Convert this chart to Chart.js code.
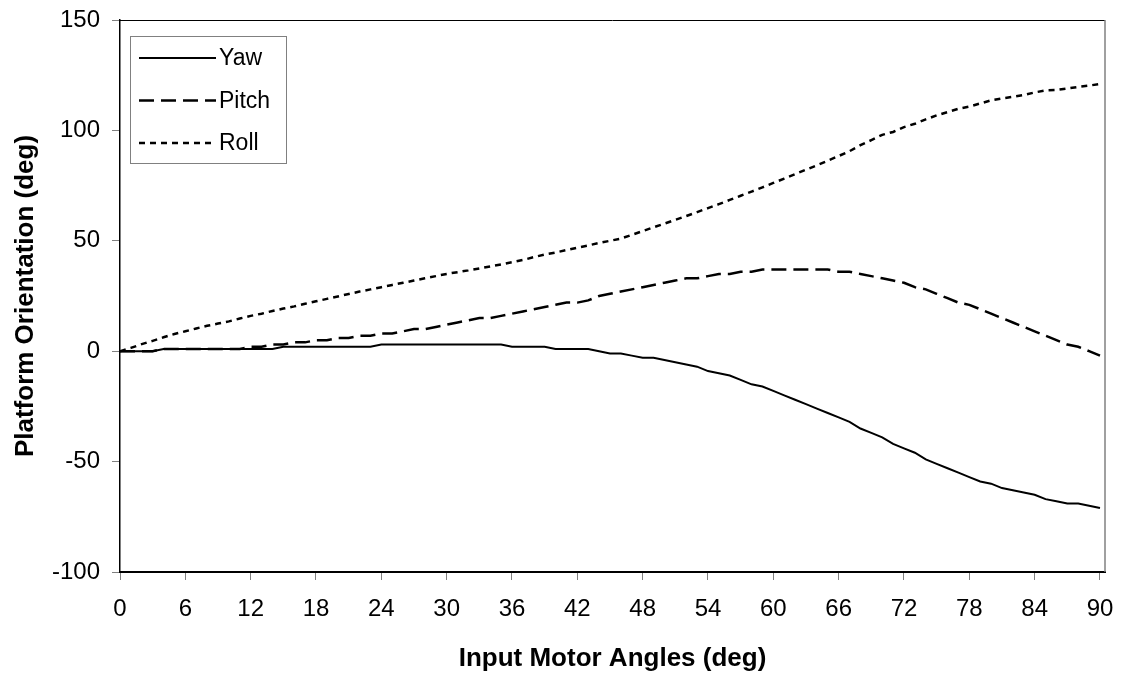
<!DOCTYPE html>
<html>
<head>
<meta charset="utf-8">
<script src="https://cdn.jsdelivr.net/npm/chart.js@4/dist/chart.umd.min.js"></script>
<style>
  html, body { margin: 0; padding: 0; background: #fff; }
  #wrap { width: 1125px; height: 674px; }
</style>
</head>
<body>
<div id="wrap"><canvas id="chart" width="1125" height="674"></canvas></div>
<script>
// Input motor angle (deg), one sample per degree
const angles = [0, 1, 2, 3, 4, 5, 6, 7, 8, 9, 10, 11, 12, 13, 14, 15, 16, 17, 18, 19,
    20, 21, 22, 23, 24, 25, 26, 27, 28, 29, 30, 31, 32, 33, 34, 35, 36, 37, 38, 39,
    40, 41, 42, 43, 44, 45, 46, 47, 48, 49, 50, 51, 52, 53, 54, 55, 56, 57, 58, 59,
    60, 61, 62, 63, 64, 65, 66, 67, 68, 69, 70, 71, 72, 73, 74, 75, 76, 77, 78, 79,
    80, 81, 82, 83, 84, 85, 86, 87, 88, 89, 90];

// Platform orientation (deg)
const yaw = [0, 0, 0, 0, 1, 1, 1, 1, 1, 1, 1, 1, 1, 1, 1, 2, 2, 2, 2, 2,
    2, 2, 2, 2, 3, 3, 3, 3, 3, 3, 3, 3, 3, 3, 3, 3, 2, 2, 2, 2,
    1, 1, 1, 1, 0, -1, -1, -2, -3, -3, -4, -5, -6, -7, -9, -10, -11, -13, -15, -16,
    -18, -20, -22, -24, -26, -28, -30, -32, -35, -37, -39, -42, -44, -46, -49, -51, -53, -55, -57, -59,
    -60, -62, -63, -64, -65, -67, -68, -69, -69, -70, -71];

const pitch = [0, 0, 0, 0, 1, 1, 1, 1, 1, 1, 1, 1, 2, 2, 3, 3, 4, 4, 5, 5,
    6, 6, 7, 7, 8, 8, 9, 10, 10, 11, 12, 13, 14, 15, 15, 16, 17, 18, 19, 20,
    21, 22, 22, 23, 25, 26, 27, 28, 29, 30, 31, 32, 33, 33, 34, 35, 35, 36, 36, 37,
    37, 37, 37, 37, 37, 37, 36, 36, 35, 34, 33, 32, 31, 29, 28, 26, 24, 22, 21, 19,
    17, 15, 13, 11, 9, 7, 5, 3, 2, 0, -2];

const roll = [0, 1.5, 3.2, 4.7, 6.3, 7.8, 9, 10.3, 11.5, 12.5, 13.5, 14.8, 16, 17, 18.2, 19.3, 20.3, 21.5, 22.6, 23.7,
    24.8, 25.9, 27, 28, 29, 30, 31, 32, 33, 34, 35, 35.8, 36.6, 37.5, 38.4, 39.3, 40.3, 41.3, 42.6, 43.8,
    44.7, 45.8, 46.9, 47.9, 49, 50, 51, 52.7, 54.4, 56.1, 57.8, 59.5, 61.2, 63, 64.8, 66.6, 68.5, 70.4, 72.3, 74.2,
    76.2, 78.2, 80.2, 82.2, 84.2, 86.3, 88.4, 90.6, 93.3, 95.6, 98, 99.3, 101.5, 103, 105, 106.8, 108.3, 109.8, 110.8, 112.2,
    113.6, 114.5, 115.2, 116, 117.2, 118.1, 118.3, 119, 119.7, 120.3, 121];

const xTicks = [0, 6, 12, 18, 24, 30, 36, 42, 48, 54, 60, 66, 72, 78, 84, 90];
const yTicks = [-100, -50, 0, 50, 100, 150];

const seriesNames = ["Yaw", "Pitch", "Roll"];

const FONT = "'Liberation Sans', Arial, sans-serif";

function points(values) {
    return angles.map((a, i) => ({ x: a, y: values[i] }));
}

// Boxed legend in the upper left of the plot
const boxLegend = {
    id: "boxLegend",
    afterDatasetsDraw(chart) {
        const ctx = chart.ctx;
        const area = chart.chartArea;
        const x0 = area.left + 10, y0 = area.top + 16;
        const w = 156, h = 127;
        ctx.save();
        ctx.fillStyle = "#fff";
        ctx.fillRect(x0, y0, w, h);
        ctx.strokeStyle = "#808080";
        ctx.lineWidth = 1;
        ctx.strokeRect(x0 + 0.5, y0 + 0.5, w, h);
        ctx.font = "23px " + FONT;
        ctx.textBaseline = "middle";
        ctx.fillStyle = "#000";
        chart.data.datasets.forEach((ds, i) => {
            const y = y0 + 22 + i * 42.5;
            ctx.beginPath();
            ctx.strokeStyle = ds.borderColor;
            ctx.lineWidth = ds.borderWidth;
            ctx.setLineDash(ds.borderDash || []);
            ctx.moveTo(x0 + 9, y);
            ctx.lineTo(x0 + 86, y);
            ctx.stroke();
            ctx.setLineDash([]);
            ctx.fillText(ds.label, x0 + 89, y + 1);
        });
        ctx.restore();
    }
};

// Top and right edges of the plot area
const frame = {
    id: "frame",
    beforeDatasetsDraw(chart) {
        const ctx = chart.ctx;
        const a = chart.chartArea;
        ctx.save();
        ctx.lineWidth = 1;
        ctx.strokeStyle = "#000";
        ctx.beginPath();
        ctx.moveTo(a.left, a.top + 0.5);
        ctx.lineTo(a.right, a.top + 0.5);
        ctx.stroke();
        ctx.strokeStyle = "#808080";
        ctx.lineWidth = 1.5;
        ctx.beginPath();
        ctx.moveTo(a.right, a.top);
        ctx.lineTo(a.right, a.bottom);
        ctx.stroke();
        ctx.restore();
    }
};

const data = {
    datasets: [{
        label: seriesNames[0],
        data: points(yaw),
        borderColor: "#000",
        borderWidth: 2,
        borderDash: []
    }, {
        label: seriesNames[1],
        data: points(pitch),
        borderColor: "#000",
        borderWidth: 2.5,
        borderDash: [15, 7]
    }, {
        label: seriesNames[2],
        data: points(roll),
        borderColor: "#000",
        borderWidth: 2.5,
        borderDash: [6, 5]
    }]
};

new Chart(document.getElementById("chart"), {
    type: "line",
    data: data,
    plugins: [frame, boxLegend],
    options: {
        responsive: false,
        animation: false,
        events: [],
        layout: {
            padding: { top: 20, right: 20, left: 0, bottom: 0 }
        },
        elements: {
            point: { radius: 0 },
            line: { tension: 0, fill: false }
        },
        plugins: {
            legend: { display: false },
            title: { display: false },
            tooltip: { enabled: false }
        },
        scales: {
            x: {
                type: "linear",
                min: 0,
                max: 90.46,
                // fixed axis box so the plot area sits where it should
                afterFit: (s) => {
                    s.height = 102;
                    s.paddingLeft = 0;
                    s.paddingRight = 0;
                },
                afterBuildTicks: (s) => { s.ticks = xTicks.map(v => ({ value: v })); },
                border: { color: "#000", width: 2 },
                grid: { drawOnChartArea: false, drawTicks: true, tickLength: 8, color: "#808080" },
                ticks: {
                    color: "#000",
                    padding: 15,
                    maxRotation: 0,
                    autoSkip: false,
                    font: { family: FONT, size: 24 }
                },
                title: {
                    display: true,
                    text: "Input Motor Angles (deg)",
                    color: "#000",
                    padding: { top: 0, bottom: 0 },
                    font: { family: FONT, size: 26, weight: "bold" }
                }
            },
            y: {
                min: -100,
                max: 150,
                afterFit: (s) => {
                    s.width = 120;
                    s.paddingTop = 0;
                    s.paddingBottom = 0;
                },
                afterBuildTicks: (s) => { s.ticks = yTicks.map(v => ({ value: v })); },
                border: { color: "#000", width: 1.5 },
                grid: { drawOnChartArea: false, drawTicks: true, tickLength: 8, color: "#808080" },
                ticks: {
                    color: "#000",
                    padding: 12,
                    font: { family: FONT, size: 24 }
                },
                title: {
                    display: true,
                    text: "Platform Orientation (deg)",
                    color: "#000",
                    padding: { top: 10, bottom: 0 },
                    font: { family: FONT, size: 26, weight: "bold" }
                }
            }
        }
    }
});
</script>
</body>
</html>
